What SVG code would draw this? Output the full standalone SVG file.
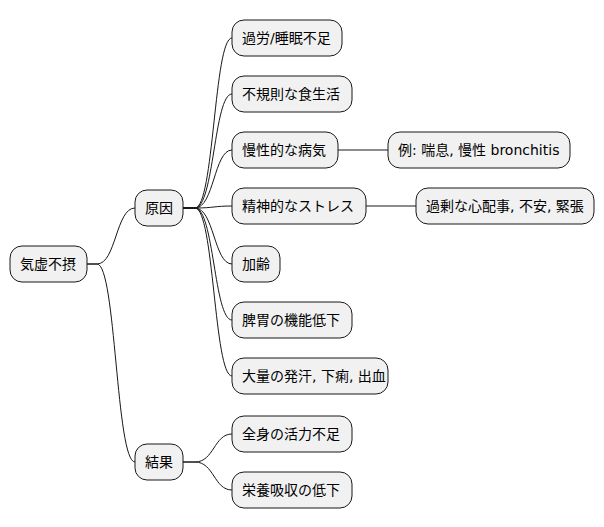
<svg xmlns="http://www.w3.org/2000/svg" width="604" height="527" viewBox="0 0 604 527">
<style>
.n rect{fill:#F1F1F1;stroke:#181818;stroke-width:1}
.n text{font-family:"DejaVu Sans","Noto Sans CJK JP",sans-serif;font-size:14px;fill:#000}
#c path{fill:none;stroke:#181818;stroke-width:1}
</style>
<rect width="604" height="527" fill="#fff"/>
<g id="c">
<path d="M87,264 L97,264 C116,264 116,208 135,208"/>
<path d="M87,264 L97,264 C116,264 116,462 135,462"/>
<path d="M183,208 L195,208 C214,208 214,38 232,38"/>
<path d="M183,208 L195,208 C214,208 214,94 232,94"/>
<path d="M183,208 L195,208 C214,208 214,150 232,150"/>
<path d="M183,208 L195,208 C214,208 214,206 232,206"/>
<path d="M183,208 L195,208 C214,208 214,264 232,264"/>
<path d="M183,208 L195,208 C214,208 214,320 232,320"/>
<path d="M183,208 L195,208 C214,208 214,376 232,376"/>
<path d="M183,462 L195,462 C214,462 214,434 232,434"/>
<path d="M183,462 L195,462 C214,462 214,490 232,490"/>
<path d="M338,150 L388,150"/>
<path d="M366,206 L416,206"/>
</g>
<g id="n0" class="n"><rect x="10" y="246" width="77" height="36" rx="12"/><text x="20" y="269">気虚不摂</text></g>
<g id="n1" class="n"><rect x="135" y="190" width="48" height="36" rx="12"/><text x="145" y="213">原因</text></g>
<g id="n2" class="n"><rect x="135" y="444" width="48" height="36" rx="12"/><text x="145" y="467">結果</text></g>
<g id="n3" class="n"><rect x="232" y="20" width="110" height="36" rx="12"/><text x="242" y="43">過労/睡眠不足</text></g>
<g id="n4" class="n"><rect x="232" y="76" width="120" height="36" rx="12"/><text x="242" y="99">不規則な食生活</text></g>
<g id="n5" class="n"><rect x="232" y="132" width="106" height="36" rx="12"/><text x="242" y="155">慢性的な病気</text></g>
<g id="n6" class="n"><rect x="232" y="188" width="134" height="36" rx="12"/><text x="242" y="211">精神的なストレス</text></g>
<g id="n7" class="n"><rect x="232" y="246" width="48" height="36" rx="12"/><text x="242" y="269">加齢</text></g>
<g id="n8" class="n"><rect x="232" y="302" width="120" height="36" rx="12"/><text x="242" y="325">脾胃の機能低下</text></g>
<g id="n9" class="n"><rect x="232" y="358" width="156" height="36" rx="12"/><text x="242" y="381">大量の発汗, 下痢, 出血</text></g>
<g id="n10" class="n"><rect x="232" y="416" width="120" height="36" rx="12"/><text x="242" y="439">全身の活力不足</text></g>
<g id="n11" class="n"><rect x="232" y="472" width="120" height="36" rx="12"/><text x="242" y="495">栄養吸収の低下</text></g>
<g id="n12" class="n"><rect x="388" y="132" width="182" height="36" rx="12"/><text x="398" y="155">例: 喘息, 慢性 bronchitis</text></g>
<g id="n13" class="n"><rect x="416" y="188" width="178" height="36" rx="12"/><text x="426" y="211">過剰な心配事, 不安, 緊張</text></g>
</svg>
